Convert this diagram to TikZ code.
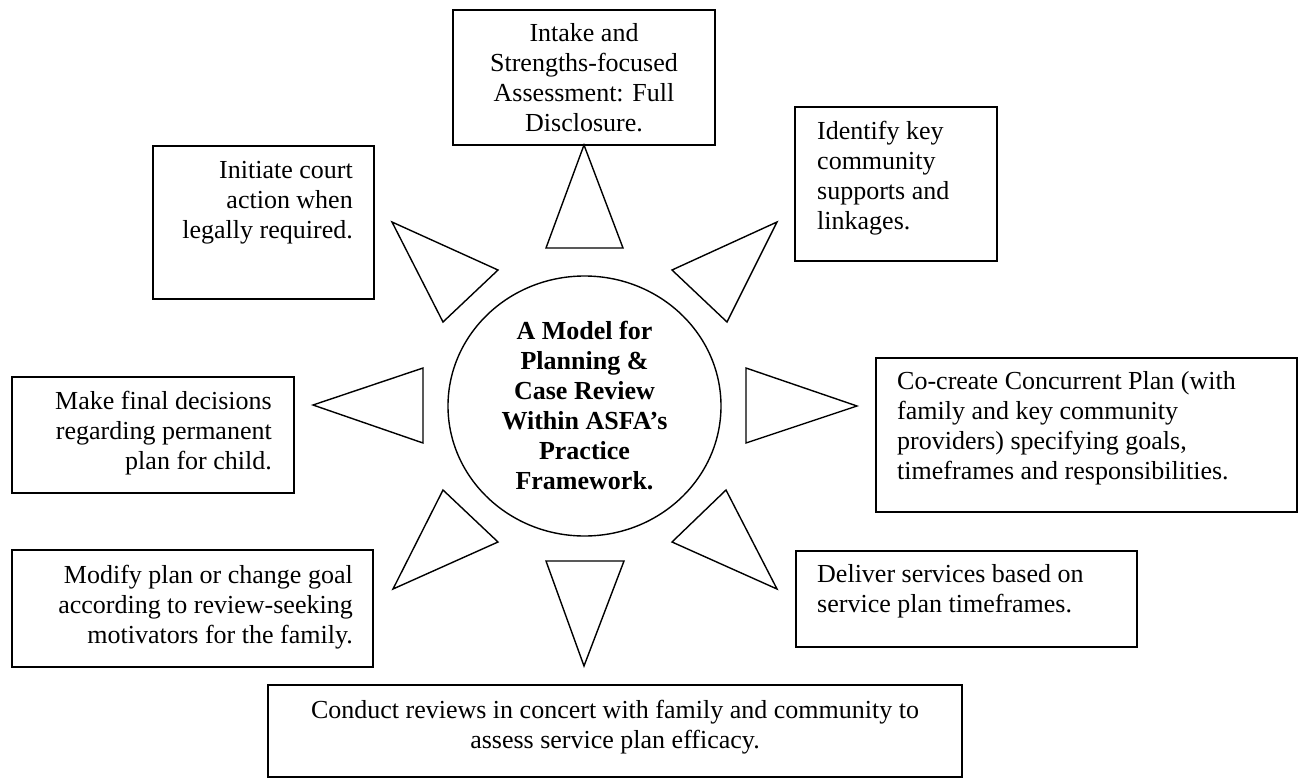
\documentclass[tikz,border=0pt]{standalone}
\usepackage{fontspec}
\setmainfont{Liberation Serif}
\tikzset{
  box/.style={draw=black, line width=1.4pt, rectangle, inner sep=0pt},
  tri/.style={draw=black, line width=1.4pt, line join=miter},
  txt/.style={inner sep=0pt, font=\fontsize{26}{30}\selectfont},
  ttl/.style={inner sep=0pt, font=\fontsize{26}{30}\selectfont\bfseries, align=center}
}
\begin{document}
\begin{tikzpicture}[x=1pt,y=-1pt]
\useasboundingbox (0,0) rectangle (1299,780);
% boxes
\draw[box] (453,10) rectangle (715,145);
\draw[box] (153,146) rectangle (374,299);
\draw[box] (795,107) rectangle (997,261);
\draw[box] (12,377) rectangle (294,493);
\draw[box] (876,358) rectangle (1297,512);
\draw[box] (12,550) rectangle (373,667);
\draw[box] (796,551) rectangle (1137,647);
\draw[box] (268,685) rectangle (962,777);
% texts
\node[txt, align=center, anchor=north] (intake) at (584,20) {\strut Intake and\\Strengths-focused\\Assessment: Full\\Disclosure.};
\node[txt, align=right, anchor=north east] (initiate) at (353,157) {\strut Initiate court\\action when\\legally required.};
\node[txt, align=left, anchor=north west] (identify) at (817,118) {\strut Identify key\\community\\supports and\\linkages.};
\node[txt, align=right, anchor=north east] (final) at (272,388) {\strut Make final decisions\\regarding permanent\\plan for child.};
\node[txt, align=left, anchor=north west] (cocreate) at (897,368) {\strut Co-create Concurrent Plan (with\\family and key community\\providers) specifying goals,\\timeframes and responsibilities.};
\node[txt, align=right, anchor=north east] (modify) at (353,562) {\strut Modify plan or change goal\\according to review-seeking\\motivators for the family.};
\node[txt, align=left, anchor=north west] (deliver) at (817,561) {\strut Deliver services based on\\service plan timeframes.};
\node[txt, align=center, anchor=north] (conduct) at (615,697) {\strut Conduct reviews in concert with family and community to\\assess service plan efficacy.};
% central circle
\draw[line width=1.4pt] (584.5,406) ellipse [x radius=136.5, y radius=130];
\node[ttl, anchor=north] (model) at (584.5,318) {\strut A Model for\\Planning \&\\Case Review\\Within ASFA’s\\Practice\\Framework.};
% triangles
\draw[tri] (584,145) -- (546,248) -- (623,248) -- cycle;
\draw[tri] (392,222) -- (498,270) -- (443,322) -- cycle;
\draw[tri] (777,222) -- (672,270) -- (727,322) -- cycle;
\draw[tri] (313,405) -- (423,368) -- (423,443) -- cycle;
\draw[tri] (857,406) -- (746,368) -- (746,443) -- cycle;
\draw[tri] (443,490) -- (498,542) -- (393,589) -- cycle;
\draw[tri] (726,490) -- (672,542) -- (777,589) -- cycle;
\draw[tri] (546,561) -- (624,561) -- (584,666) -- cycle;
\end{tikzpicture}
\end{document}
